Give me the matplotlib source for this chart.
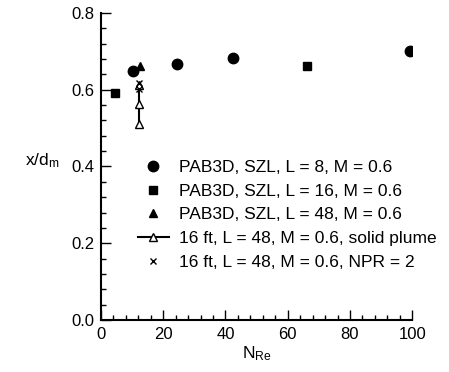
import matplotlib
matplotlib.use("Agg")
import matplotlib.pyplot as plt
from matplotlib.ticker import MultipleLocator

plt.rcParams['font.family'] = ['Liberation Sans', 'DejaVu Sans']
plt.rcParams['mathtext.default'] = 'regular'

# Data
l8_x = [10.4, 24.3, 42.5, 99.4]
l8_y = [0.649, 0.668, 0.684, 0.700]
l16_x = [4.5, 66.1]
l16_y = [0.591, 0.662]
l48_x = [12.5]
l48_y = [0.662]
plume_x = [12.3, 12.3, 12.3]
plume_y = [0.612, 0.563, 0.512]
npr_x = [12.3, 12.3]
npr_y = [0.618, 0.603]

labels = ["PAB3D, SZL, L = 8, M = 0.6",
          "PAB3D, SZL, L = 16, M = 0.6",
          "PAB3D, SZL, L = 48, M = 0.6",
          "16 ft, L = 48, M = 0.6, solid plume",
          "16 ft, L = 48, M = 0.6, NPR = 2"]

fig = plt.figure(figsize=(4.49, 3.72), dpi=100)
ax = fig.add_axes([0.225, 0.140, 0.693, 0.825])

h1, = ax.plot(l8_x, l8_y, 'o', color='black', markersize=7.5, linestyle='none')
h2, = ax.plot(l16_x, l16_y, 's', color='black', markersize=6, linestyle='none')
h3, = ax.plot(l48_x, l48_y, '^', color='black', markersize=6, linestyle='none')
h4, = ax.plot(plume_x, plume_y, '-^', color='black', markerfacecolor='white',
              markersize=6, linewidth=1.5)
h5, = ax.plot(npr_x, npr_y, 'x', color='black', markersize=5, linestyle='none')

ax.set_xlim(0, 100)
ax.set_ylim(0, 0.8)
ax.xaxis.set_major_locator(MultipleLocator(20))
ax.xaxis.set_minor_locator(MultipleLocator(4))
ax.yaxis.set_major_locator(MultipleLocator(0.2))
ax.yaxis.set_minor_locator(MultipleLocator(0.04))
ax.yaxis.set_major_formatter(matplotlib.ticker.FormatStrFormatter('%.1f'))
ax.tick_params(which='both', direction='in', labelsize=12, width=1)
ax.tick_params(which='major', length=7, pad=5)
ax.tick_params(which='minor', length=3.5)
ax.spines['top'].set_visible(False)
ax.spines['right'].set_visible(False)
ax.spines['left'].set_linewidth(1.5)
ax.spines['bottom'].set_linewidth(1.5)

ax.set_xlabel('N$_{Re}$', fontsize=12.5, labelpad=2)
ax.set_ylabel('x/d$_m$', fontsize=12.5, rotation=0)
ax.yaxis.set_label_coords(-0.19, 0.49)

ax.legend([h1, h2, h3, h4, h5], labels, loc='upper left',
          bbox_to_anchor=(0.095, 0.545), frameon=False, fontsize=12.5,
          handlelength=1.8, handletextpad=0.6, labelspacing=0.5,
          borderaxespad=0)

fig.savefig('out.png', dpi=100)
